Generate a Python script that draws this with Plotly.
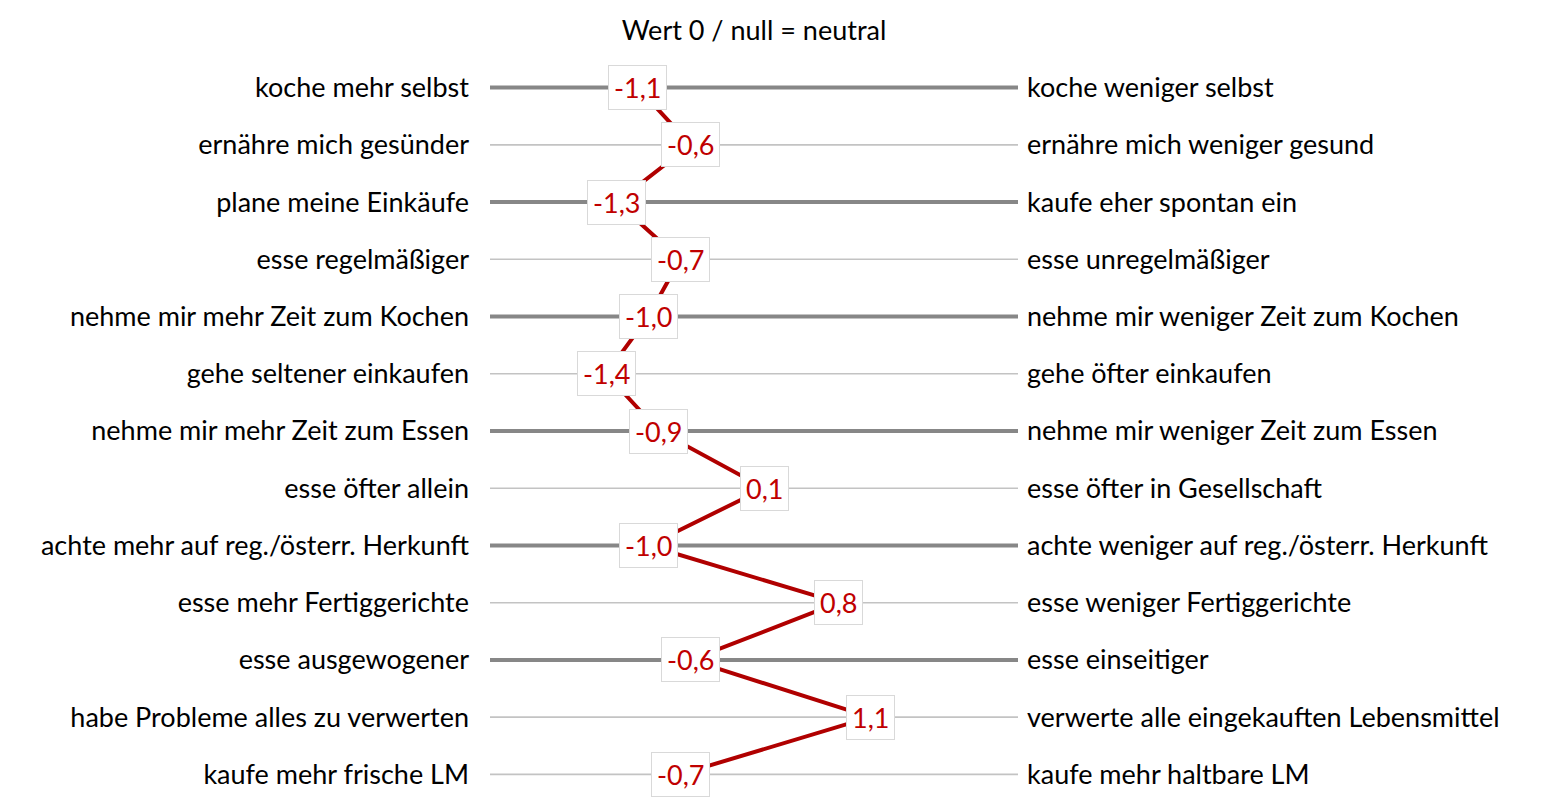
import plotly.graph_objects as go

left_labels = [
    "koche mehr selbst", "ernähre mich gesünder", "plane meine Einkäufe",
    "esse regelmäßiger", "nehme mir mehr Zeit zum Kochen", "gehe seltener einkaufen",
    "nehme mir mehr Zeit zum Essen", "esse öfter allein",
    "achte mehr auf reg./österr. Herkunft", "esse mehr Fertiggerichte",
    "esse ausgewogener", "habe Probleme alles zu verwerten", "kaufe mehr frische LM",
]
right_labels = [
    "koche weniger selbst", "ernähre mich weniger gesund", "kaufe eher spontan ein",
    "esse unregelmäßiger", "nehme mir weniger Zeit zum Kochen", "gehe öfter einkaufen",
    "nehme mir weniger Zeit zum Essen", "esse öfter in Gesellschaft",
    "achte weniger auf reg./österr. Herkunft", "esse weniger Fertiggerichte",
    "esse einseitiger", "verwerte alle eingekauften Lebensmittel", "kaufe mehr haltbare LM",
]
values = [-1.1, -0.6, -1.3, -0.7, -1.0, -1.4, -0.9, 0.1, -1.0, 0.8, -0.6, 1.1, -0.7]
scale_min, scale_max = -2.5, 2.5
title_text = "Wert 0 / null = neutral"

FONT = "Lato"
FS = 27
n = len(values)
rows = list(range(n))
fig = go.Figure()

for i in rows:
    thick = (i % 2 == 0) and i < 12
    fig.add_trace(go.Scatter(
        x=[scale_min, scale_max], y=[i, i], mode="lines",
        line=dict(color="#878787" if thick else "#c3c3c3", width=4 if thick else 1.6),
        hoverinfo="skip", showlegend=False,
    ))

fig.add_trace(go.Scatter(
    x=values, y=rows, mode="lines",
    line=dict(color="#b00000", width=4),
    showlegend=False,
))

# invisible trace for right axis
fig.add_trace(go.Scatter(x=[scale_min], y=[0], yaxis="y2", mode="markers",
                         marker=dict(opacity=0), showlegend=False, hoverinfo="skip"))

for v, i in zip(values, rows):
    fig.add_annotation(
        x=v, y=i, text=f"{v:.1f}".replace(".", ","), showarrow=False,
        font=dict(family=FONT, size=FS, color="#c00000"),
        bgcolor="white", bordercolor="#d9d9d9", borderwidth=1, borderpad=5,
    )

fig.update_layout(
    width=1560, height=807,
    margin=dict(l=482, r=550, t=51, b=12),
    plot_bgcolor="white", paper_bgcolor="white",
    font=dict(family=FONT, size=FS, color="black"),
    title=dict(text=title_text, x=0.5, xref="paper", xanchor="center",
               y=1 - 23 / 807, yanchor="middle",
               font=dict(family=FONT, size=FS, color="black")),
    xaxis=dict(range=[scale_min, scale_max], visible=False, fixedrange=True),
    yaxis=dict(range=[n - 0.5, -0.5], tickvals=rows, ticktext=left_labels,
               showgrid=False, zeroline=False, showline=False, ticks="",
               ticklabelstandoff=20),
    yaxis2=dict(range=[n - 0.5, -0.5], tickvals=rows, ticktext=right_labels,
                overlaying="y", side="right", showgrid=False, zeroline=False,
                showline=False, ticks="", ticklabelstandoff=8),
)

fig.write_html("out.html")
